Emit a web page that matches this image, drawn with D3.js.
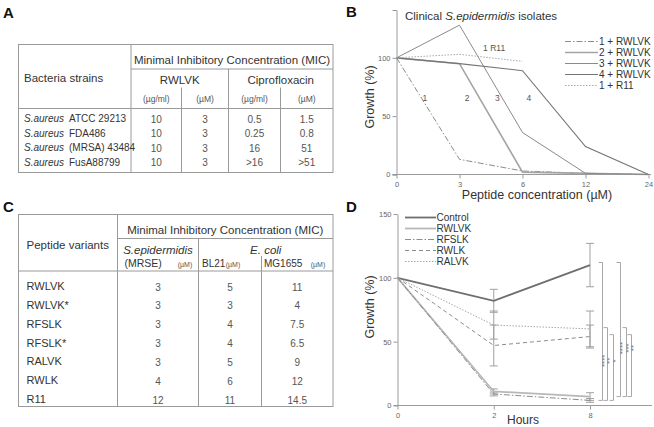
<!DOCTYPE html>
<html><head><meta charset="utf-8">
<script src="https://cdn.jsdelivr.net/npm/d3@7"></script>
<style>
body{margin:0;background:#fff}
svg{display:block;font-family:"Liberation Sans",Arial,Helvetica,sans-serif}
</style>
</head><body>
<svg id="c" width="654" height="427"></svg>
<script>
// ---------------- DATA ----------------
// Panel A
const strainSpecies = ["S.aureus","S.aureus","S.aureus","S.aureus"];
const strainNames = ["ATCC 29213","FDA486","(MRSA) 43484","FusA88799"];
const rwlvkUgml = ["10","10","10","10"];
const rwlvkUM = ["3","3","3","3"];
const ciproUgml = ["0.5","0.25","16",">16"];
const ciproUM = ["1.5","0.8","51",">51"];
// Panel B
const concLabels = ["0","3","6","12","24"];
const iso1RWLVK = [100, 13, 3, 1, 0];
const iso2RWLVK = [100, 95, 2, 1, 0];
const iso3RWLVK = [100, 128, 36, 1, 0];
const iso4RWLVK = [100, 95, 89, 24, 0];
const iso1R11 = [100, 103, 97];
const seriesBNames = ["1 + RWLVK","2 + RWLVK","3 + RWLVK","4 + RWLVK","1 + R11"];
const yTicksB = [0, 50, 100];
// Panel C
const peptideVariants = ["RWLVK","RWLVK*","RFSLK","RFSLK*","RALVK","RWLK","R11"];
const micMRSE = ["3","3","3","3","3","4","12"];
const micBL21 = ["5","3","4","4","5","6","11"];
const micMG1655 = ["11","4","7.5","6.5","9","12","14.5"];
// Panel D
const hourLabels = ["0","2","8"];
const controlMean = [100, 82, 110], controlErr = [0, 9, 17];
const rwlvkMean = [100, 11, 7], rwlvkErr = [0, 2, 3];
const rfslkMean = [100, 9, 4], rfslkErr = [0, 1.5, 1.5];
const rwlkMean = [100, 47, 54], rwlkErr = [0, 16, 9];
const ralvkMean = [100, 63, 60], ralvkErr = [0, 11, 14];
const seriesDNames = ["Control","RWLVK","RFSLK","RWLK","RALVK"];
const yTicksD = [0, 50, 100, 150];
// significance comparisons at 8 h: [from value, to value, label]
const sigGroup1 = [[4, 112, "****"], [4, 61, "**"], [4, 55.5, "*"]];
const sigGroup2 = [[7, 112, "****"], [7, 61, "***"], [7, 55.5, "**"]];

// ---------------- DRAW ----------------
const svg = d3.select("#c");
svg.append("rect").attr("width",654).attr("height",427).attr("fill","#fff");
const lineCol = "#9a9a9a", txtDark = "#333", txtVal = "#555";

// panel letters
[["A",3,18],["B",346,17],["C",3,212],["D",346,212]].forEach(([t,x,y])=>{
  svg.append("text").attr("x",x).attr("y",y).attr("font-size",15).attr("font-weight","bold").attr("fill","#111").text(t);
});

function hline(g,x0,x1,y){g.append("line").attr("x1",x0).attr("x2",x1).attr("y1",y).attr("y2",y).attr("stroke",lineCol).attr("stroke-width",1);}
function vline(g,x,y0,y1){g.append("line").attr("x1",x).attr("x2",x).attr("y1",y0).attr("y2",y1).attr("stroke",lineCol).attr("stroke-width",1);}
function txt(g,x,y,s,opt={}){
  return g.append("text").attr("x",x).attr("y",y).attr("font-size",opt.size||11.5)
    .attr("fill",opt.fill||txtDark).attr("text-anchor",opt.anchor||"start")
    .attr("font-style",opt.italic?"italic":"normal").text(s);
}

// ---- Table A ----
{
  const g = svg.append("g");
  const L = {x0:18.5,x1:333,y0:44.5,y1:172.5,c1:131,c2:181.5,c3:228.5,c4:280.5,h1:69,h1b:87.5,h2:108.5};
  g.append("rect").attr("x",L.x0).attr("y",L.y0).attr("width",L.x1-L.x0).attr("height",L.y1-L.y0).attr("fill","none").attr("stroke",lineCol);
  vline(g,L.c1,L.y0,L.y1); hline(g,L.c1,L.x1,L.h1); vline(g,L.c3,L.h1,L.y1);
  vline(g,L.c2,L.h1b,L.y1); vline(g,L.c4,L.h1b,L.y1); hline(g,L.x0,L.x1,L.h2);
  txt(g,24,82,"Bacteria strains");
  txt(g,(L.c1+L.x1)/2,64,"Minimal Inhibitory Concentration (MIC)",{anchor:"middle"});
  txt(g,(L.c1+L.c3)/2,84,"RWLVK",{anchor:"middle"});
  txt(g,(L.c3+L.x1)/2,84,"Ciprofloxacin",{anchor:"middle"});
  const cc = [(L.c1+L.c2)/2,(L.c2+L.c3)/2,(L.c3+L.c4)/2,(L.c4+L.x1)/2];
  ["(µg/ml)","(µM)","(µg/ml)","(µM)"].forEach((u,i)=>txt(g,cc[i],101.5,u,{anchor:"middle",size:8.5,fill:txtVal}));
  const rowY = d3.scalePoint().domain(d3.range(strainNames.length)).range([122,165.5]);
  const cols = [rwlvkUgml,rwlvkUM,ciproUgml,ciproUM];
  strainNames.forEach((n,i)=>{
    txt(g,24,rowY(i),strainSpecies[i],{italic:true,size:10});
    txt(g,69,rowY(i),n,{size:10});
    cols.forEach((c,j)=>txt(g,cc[j],rowY(i)+0.5,c[i],{anchor:"middle",size:10,fill:txtVal}));
  });
}

// ---- Table C ----
{
  const g = svg.append("g");
  const L = {x0:18.5,x1:333,y0:214.5,y1:406.5,c1:117.5,c2:198.5,c3:261.5,h1:238.5,h1b:256,h2:271};
  g.append("rect").attr("x",L.x0).attr("y",L.y0).attr("width",L.x1-L.x0).attr("height",L.y1-L.y0).attr("fill","none").attr("stroke",lineCol);
  vline(g,L.c1,L.y0,L.y1); hline(g,L.c1,L.x1,L.h1); vline(g,L.c2,L.h1,L.y1);
  vline(g,L.c3,L.h1b,L.y1); hline(g,L.x0,L.x1,L.h2);
  txt(g,26.5,249,"Peptide variants");
  txt(g,(L.c1+L.x1)/2,234,"Minimal Inhibitory Concentration (MIC)",{anchor:"middle"});
  txt(g,(L.c1+L.c2)/2,254,"S.epidermidis",{anchor:"middle",italic:true});
  txt(g,(L.c2+L.x1)/2,254,"E. coli",{anchor:"middle",italic:true});
  txt(g,124.5,267,"(MRSE)",{size:10.5});
  txt(g,185,267,"(µM)",{anchor:"middle",size:7,fill:txtVal});
  txt(g,202,267,"BL21",{size:10});
  txt(g,233,267,"(µM)",{anchor:"middle",size:7,fill:txtVal});
  txt(g,264,267,"MG1655",{size:10});
  txt(g,318,267,"(µM)",{anchor:"middle",size:7,fill:txtVal});
  const rowY = d3.scalePoint().domain(d3.range(peptideVariants.length)).range([290,403]);
  const cc = [(L.c1+L.c2)/2,(L.c2+L.c3)/2,(L.c3+L.x1)/2];
  const cols = [micMRSE,micBL21,micMG1655];
  peptideVariants.forEach((p,i)=>{
    txt(g,26.5,rowY(i),p,{size:11});
    cols.forEach((c,j)=>txt(g,cc[j],rowY(i)+0.5,c[i],{anchor:"middle",size:10,fill:txtVal}));
  });
}

function styleAxis(g){
  g.selectAll("path,line").attr("stroke",lineCol).attr("stroke-width",1);
  g.selectAll("text").attr("fill","#666").attr("font-size",7.5).attr("font-family","'Liberation Sans',Arial,sans-serif");
}

// ---- Panel B ----
{
  const g = svg.append("g");
  const xB = d3.scalePoint().domain(concLabels).range([396.5, 648.5]);
  const yB = d3.scaleLinear().domain([0, 141]).range([174.5, 10]);
  g.append("g").attr("transform","translate(396.5,0)")
    .call(d3.axisLeft(yB).tickValues(yTicksB).tickSize(4).tickSizeOuter(4).tickPadding(2)).call(styleAxis);
  g.append("g").attr("transform","translate(0,174.5)")
    .call(d3.axisBottom(xB).tickSize(4).tickSizeOuter(0).tickPadding(3))
    .call(ax=>ax.select(".domain").attr("d","M392.5,0H651")).call(styleAxis);
  const line = d3.line().x((d,i)=>xB(concLabels[i])).y(d=>yB(d));
  const stylesB = [
    {data:iso1RWLVK,stroke:"#8c8c8c",w:1,dash:"6,2,1.5,2"},
    {data:iso2RWLVK,stroke:"#a4a4a4",w:1.6,dash:null},
    {data:iso3RWLVK,stroke:"#8a8a8a",w:1,dash:null},
    {data:iso4RWLVK,stroke:"#757575",w:1.1,dash:null},
    {data:iso1R11,stroke:"#a8a8a8",w:1,dash:"1.5,1.5"}
  ];
  stylesB.forEach(s=>{
    g.append("path").attr("d",line(s.data)).attr("fill","none").attr("stroke",s.stroke)
      .attr("stroke-width",s.w).attr("stroke-dasharray",s.dash);
  });
  // curve labels
  const lx = (a,b,f)=>xB(a)+(xB(b)-xB(a))*f;
  [["1","0","3",0.45,63],["2","3","6",0.12,63],["3","3","6",0.6,63],["4","6","12",0.1,63]].forEach(([t,a,b,f,v])=>{
    txt(g,lx(a,b,f),yB(v),t,{size:8.5,fill:"#555",anchor:"middle"});
  });
  txt(g,lx("3","6",0.55),yB(106),"1 R11",{size:8.5,fill:"#555",anchor:"middle"});
  // title
  const t = g.append("text").attr("x",405).attr("y",20).attr("font-size",11.5).attr("fill",txtDark);
  t.append("tspan").text("Clinical ");
  t.append("tspan").attr("font-style","italic").text("S.epidermidis");
  t.append("tspan").text(" isolates");
  // legend
  const legY = d3.scalePoint().domain(seriesBNames).range([45,89]);
  seriesBNames.forEach((n,i)=>{
    const s = stylesB[i];
    g.append("line").attr("x1",565).attr("x2",598).attr("y1",legY(n)-3.5).attr("y2",legY(n)-3.5)
      .attr("stroke",s.stroke).attr("stroke-width",s.w).attr("stroke-dasharray",s.dash);
    txt(g,599,legY(n),n,{size:10});
  });
  // axis titles
  txt(g,0,0,"Growth (%)",{size:12.5,anchor:"middle"}).attr("transform","translate(374,97) rotate(-90)");
  txt(g,537,199,"Peptide concentration (µM)",{size:12.5,anchor:"middle"});
}

// ---- Panel D ----
{
  const g = svg.append("g");
  const xD = d3.scalePoint().domain(hourLabels).range([397.5, 590]);
  const yD = d3.scaleLinear().domain([0,150]).range([405.5, 214]);
  g.append("g").attr("transform","translate(397.5,0)")
    .call(d3.axisLeft(yD).tickValues(yTicksD).tickSize(4).tickSizeOuter(0).tickPadding(2)).call(styleAxis);
  g.append("g").attr("transform","translate(0,405.5)")
    .call(d3.axisBottom(xD).tickSize(4).tickSizeOuter(0).tickPadding(3))
    .call(ax=>ax.select(".domain").attr("d","M393.5,0H652")).call(styleAxis);
  const seriesD = [
    {name:"Control",m:controlMean,e:controlErr,stroke:"#6e6e6e",w:1.8,dash:null},
    {name:"RWLVK",m:rwlvkMean,e:rwlvkErr,stroke:"#b8b8b8",w:1.8,dash:null},
    {name:"RFSLK",m:rfslkMean,e:rfslkErr,stroke:"#8c8c8c",w:1,dash:"6,2,1.5,2"},
    {name:"RWLK",m:rwlkMean,e:rwlkErr,stroke:"#8c8c8c",w:1,dash:"4,3"},
    {name:"RALVK",m:ralvkMean,e:ralvkErr,stroke:"#a8a8a8",w:1,dash:"1.5,1.5"}
  ];
  // error bars
  seriesD.forEach(s=>{
    s.m.forEach((v,i)=>{
      if(!s.e[i]) return;
      const x = xD(hourLabels[i]);
      const eg = g.append("g").attr("stroke","#a0a0a0").attr("stroke-width",1);
      eg.append("line").attr("x1",x).attr("x2",x).attr("y1",yD(v-s.e[i])).attr("y2",yD(v+s.e[i]));
      eg.append("line").attr("x1",x-4).attr("x2",x+4).attr("y1",yD(v-s.e[i])).attr("y2",yD(v-s.e[i]));
      eg.append("line").attr("x1",x-4).attr("x2",x+4).attr("y1",yD(v+s.e[i])).attr("y2",yD(v+s.e[i]));
    });
  });
  const line = d3.line().x((d,i)=>xD(hourLabels[i])).y(d=>yD(d));
  seriesD.forEach(s=>{
    g.append("path").attr("d",line(s.m)).attr("fill","none").attr("stroke",s.stroke)
      .attr("stroke-width",s.w).attr("stroke-dasharray",s.dash);
  });
  // legend
  const legY = d3.scalePoint().domain(seriesDNames).range([221,265]);
  seriesD.forEach(s=>{
    g.append("line").attr("x1",405).attr("x2",436).attr("y1",legY(s.name)-3.5).attr("y2",legY(s.name)-3.5)
      .attr("stroke",s.stroke).attr("stroke-width",s.w).attr("stroke-dasharray",s.dash);
    txt(g,436.5,legY(s.name),s.name,{size:10});
  });
  // significance brackets
  const x8 = xD("8");
  function brackets(group, offsets, labelVal){
    group.forEach(([a,b,lab],k)=>{
      const bx = x8 + offsets[k];
      g.append("path").attr("d",`M${bx-4},${yD(b)}H${bx}V${yD(a)}H${bx-4}`)
        .attr("fill","none").attr("stroke","#a8a8a8").attr("stroke-width",1);
      g.append("text").attr("transform",`translate(${bx+4.5},${yD(labelVal)}) rotate(-90)`)
        .attr("text-anchor","middle").attr("font-size",8).attr("fill","#777").text(lab);
    });
  }
  brackets(sigGroup1,[12.5,17.5,23.5],35);
  brackets(sigGroup2,[30.5,36.5,41.5],45);
  txt(g,0,0,"Growth (%)",{size:12.5,anchor:"middle"}).attr("transform","translate(374,307) rotate(-90)");
  txt(g,523,424,"Hours",{size:12,anchor:"middle"});
}
</script>
</body></html>
